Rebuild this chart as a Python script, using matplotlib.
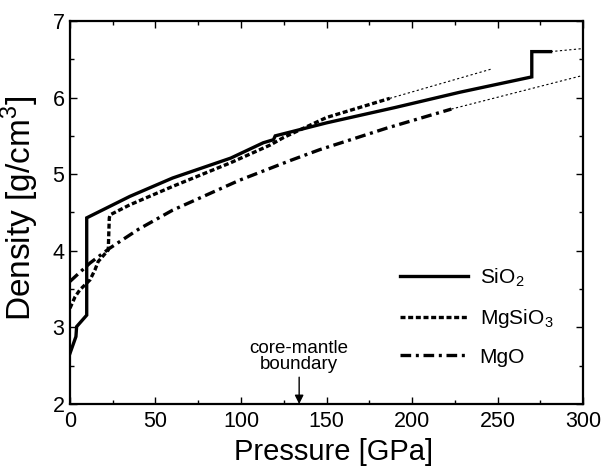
import numpy as np
import matplotlib
matplotlib.use('Agg')
import matplotlib.pyplot as plt
from matplotlib.ticker import MultipleLocator

plt.rcParams['font.family'] = ['Liberation Sans', 'DejaVu Sans']
plt.rcParams['mathtext.fontset'] = 'custom'
plt.rcParams['mathtext.rm'] = 'Liberation Sans'

# ── data ──────────────────────────────────────────────
sio2_p   = [0, 3.5, 3.9, 9.8, 9.8, 35, 60, 94, 113, 119, 120, 150, 190, 228, 270, 270, 281]
sio2_rho = [2.66, 2.88, 3.01, 3.16, 4.43, 4.71, 4.95, 5.21, 5.41, 5.45, 5.50, 5.67, 5.87, 6.07, 6.27, 6.60, 6.60]
sio2_ext_p   = [281, 300]
sio2_ext_rho = [6.60, 6.64]

mgsio3_p   = [0, 3, 5.8, 11.7, 14.6, 16.5, 22.4, 23, 23.5, 35, 60, 94, 117, 125, 150, 187]
mgsio3_rho = [3.25, 3.40, 3.49, 3.62, 3.75, 3.86, 4.01, 4.43, 4.47, 4.60, 4.84, 5.15, 5.38, 5.48, 5.74, 5.99]
mgsio3_ext_p   = [187, 246]
mgsio3_ext_rho = [5.99, 6.37]

mgo_p   = [0, 11.7, 23, 40, 60, 99, 129, 146, 185, 223]
mgo_rho = [3.60, 3.84, 4.03, 4.28, 4.53, 4.92, 5.18, 5.32, 5.60, 5.85]
mgo_ext_p   = [223, 300]
mgo_ext_rho = [5.85, 6.29]

cmb_p = 134

# ── figure ────────────────────────────────────────────
fig = plt.figure(figsize=(6.03, 4.66), dpi=100)
ax = fig.add_axes([0.116, 0.133, 0.851, 0.822])

lw = 2.4
ax.plot(sio2_p, sio2_rho, color='black', lw=lw, ls='-',
        solid_joinstyle='miter', label='SiO$_2$')
ax.plot(mgsio3_p, mgsio3_rho, color='black', lw=lw, ls=(0, (1.5, 0.8)),
        label='MgSiO$_3$')
ax.plot(mgo_p, mgo_rho, color='black', lw=lw, ls=(0, (3.2, 1.4, 0.9, 1.4)),
        label='MgO')

# thin dotted extrapolations
thin = dict(color='black', lw=0.8, ls=(0, (2, 2.2)))
ax.plot(sio2_ext_p, sio2_ext_rho, **thin)
ax.plot(mgsio3_ext_p, mgsio3_ext_rho, **thin)
ax.plot(mgo_ext_p, mgo_ext_rho, **thin)

# core-mantle boundary marker
ax.annotate('', xy=(cmb_p, 2.0), xytext=(cmb_p, 2.35),
            arrowprops=dict(arrowstyle='-|>', color='black', lw=1.0,
                            mutation_scale=13, shrinkA=0, shrinkB=0))
ax.text(cmb_p, 2.41, 'core-mantle\nboundary', ha='center', va='bottom',
        fontsize=13.5, linespacing=0.9)

ax.set_xlim(0, 300)
ax.set_ylim(2, 7)
ax.xaxis.set_major_locator(MultipleLocator(50))
ax.xaxis.set_minor_locator(MultipleLocator(25))
ax.yaxis.set_major_locator(MultipleLocator(1))
ax.yaxis.set_minor_locator(MultipleLocator(0.5))
ax.tick_params(which='both', direction='in', top=True, right=True, width=1.0,
               labelsize=15.5)
ax.tick_params(axis='x', pad=5)
ax.tick_params(axis='y', pad=4)
ax.tick_params(which='major', length=5)
ax.tick_params(which='minor', length=3)
for s in ax.spines.values():
    s.set_linewidth(1.6)

ax.set_xlabel('Pressure [GPa]', fontsize=21)
ax.set_ylabel('Density [g/cm$^3$]', fontsize=24)
ax.xaxis.set_label_coords(0.514, -0.09)
ax.yaxis.set_label_coords(-0.056, 0.51)

ax.legend(loc='center left', bbox_to_anchor=(0.626, 0.228), borderaxespad=0,
          frameon=False, fontsize=15, handlelength=3.3, handletextpad=0.55,
          labelspacing=0.85)

fig.savefig('out.png', dpi=100)
